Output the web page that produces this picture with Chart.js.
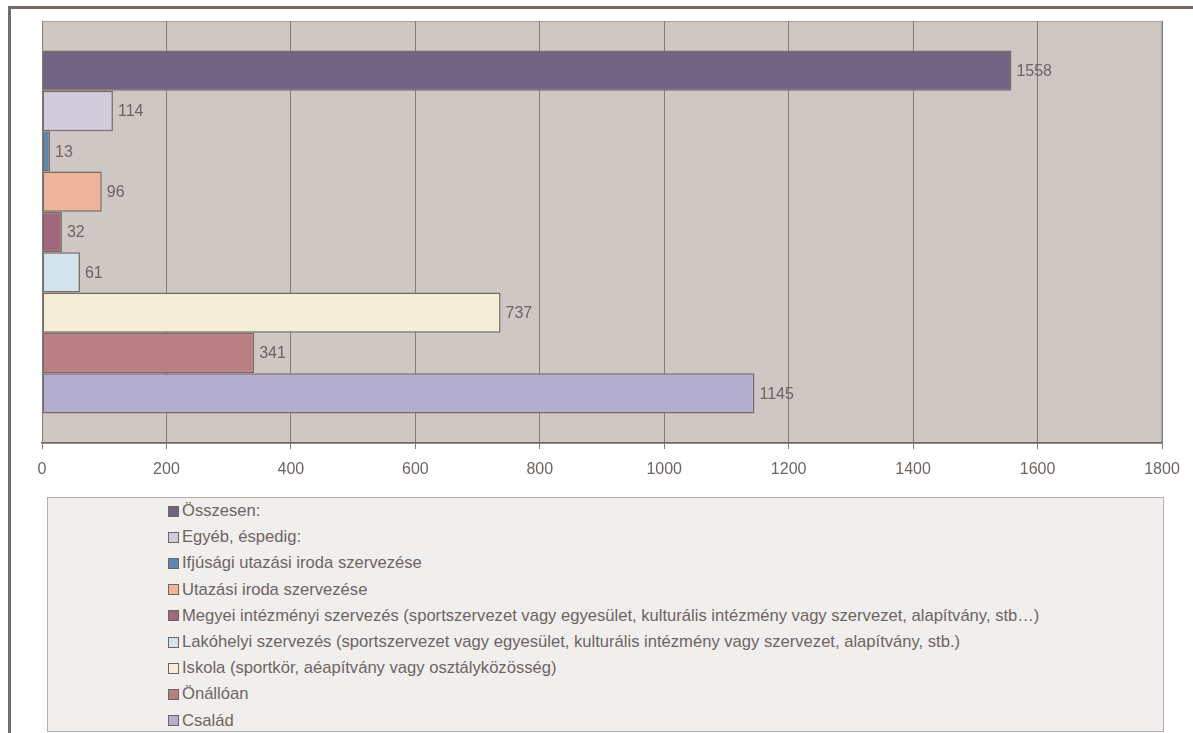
<!DOCTYPE html>
<html lang="hu">
<head>
<meta charset="utf-8">
<title>Szervezés</title>
<script src="https://cdn.jsdelivr.net/npm/chart.js@4.4.1/dist/chart.umd.min.js"></script>
<style>
  html, body { margin: 0; padding: 0; background: #fff; }
  body { width: 1193px; height: 733px; position: relative; overflow: hidden;
         font-family: "Liberation Sans", Arial, sans-serif; }
  .frame { position: absolute; left: 8px; top: 6px; width: 1300px; height: 800px;
           border-left: 3px solid #776b68; border-top: 3px solid #776b68; }
  .chart-box { position: absolute; left: 0; top: 0; width: 1193px; height: 490px; }
  .legend { position: absolute; left: 47px; top: 497px; width: 1117px; height: 235px;
            background: #f1efed; border: 1px solid #b5adab; box-sizing: border-box;
            padding: 0 0 0 120px; }
  .legend-item { height: 26.2px; font-size: 16.6px; color: #6e6462;
                 white-space: nowrap; display: flex; align-items: center; }
  .legend-swatch { width: 9px; height: 9px; border: 1px solid #6e6462; margin-right: 3px; flex: none; }
</style>
</head>
<body>
<div class="frame"></div>
<div class="chart-box"><canvas id="chart"></canvas></div>
<div class="legend" id="legend"></div>
<script>
  "use strict";

  const seriesNames = [
    "Összesen:",
    "Egyéb, éspedig:",
    "Ifjúsági utazási iroda szervezése",
    "Utazási iroda szervezése",
    "Megyei intézményi szervezés (sportszervezet vagy egyesület, kulturális intézmény vagy szervezet, alapítvány, stb…)",
    "Lakóhelyi szervezés (sportszervezet vagy egyesület, kulturális intézmény vagy szervezet, alapítvány, stb.)",
    "Iskola (sportkör, aéapítvány vagy osztályközösség)",
    "Önállóan",
    "Család"
  ];
  const seriesValues = [1558, 114, 13, 96, 32, 61, 737, 341, 1145];
  const seriesColors = [
    "#716583", "#d1ccdc", "#5e88b1", "#f0b39b", "#a1677c",
    "#d3e3ee", "#f4eed9", "#ba7f83", "#b3aecf"
  ];
  const xTicks = [0, 200, 400, 600, 800, 1000, 1200, 1400, 1600, 1800];

  const textColor = "#6e6462";
  const fontFamily = "'Liberation Sans', Arial, sans-serif";

  const plotBackground = {
    id: "plotBackground",
    beforeDraw(chart) {
      const { ctx, chartArea: a } = chart;
      ctx.save();
      ctx.fillStyle = "#cfc7c4";
      ctx.fillRect(a.left, a.top, a.right - a.left, a.bottom - a.top);
      ctx.strokeStyle = "#aaa2a0";
      ctx.lineWidth = 1;
      ctx.strokeRect(a.left + 0.5, a.top + 0.5, a.right - a.left - 1, a.bottom - a.top);
      ctx.restore();
    }
  };

  const valueLabels = {
    id: "valueLabels",
    afterDatasetsDraw(chart) {
      const { ctx } = chart;
      ctx.save();
      ctx.fillStyle = textColor;
      ctx.font = "16px " + fontFamily;
      ctx.textBaseline = "middle";
      ctx.textAlign = "left";
      chart.data.datasets.forEach((ds, i) => {
        const meta = chart.getDatasetMeta(i);
        meta.data.forEach((bar, j) => {
          ctx.fillText(String(ds.data[j]), bar.x + 5, bar.y + 1);
        });
      });
      ctx.restore();
    }
  };

  new Chart(document.getElementById("chart"), {
    type: "bar",
    data: {
      labels: [""],
      datasets: seriesNames.map((name, i) => ({
        label: name,
        data: [seriesValues[i]],
        backgroundColor: seriesColors[i],
        borderColor: "#776b68",
        borderWidth: 1.5,
        borderSkipped: false,
        categoryPercentage: 0.86,
        barPercentage: 1
      }))
    },
    options: {
      indexAxis: "y",
      responsive: true,
      maintainAspectRatio: false,
      animation: false,
      layout: { padding: { left: 42, right: 31, top: 21, bottom: 7 } },
      scales: {
        x: {
          min: 0,
          max: 1800,
          afterBuildTicks: (scale) => { scale.ticks = xTicks.map((v) => ({ value: v })); },
          afterFit: (scale) => { scale.height = 40; },
          grid: { color: "#857b79", lineWidth: 1, tickLength: 6, drawTicks: true },
          border: { color: "#776b68", width: 1.5 },
          ticks: {
            color: textColor,
            padding: 11,
            font: { size: 16, family: fontFamily },
            callback: (v) => String(v)
          }
        },
        y: { display: false }
      },
      plugins: {
        legend: { display: false },
        tooltip: { enabled: false }
      }
    },
    plugins: [plotBackground, valueLabels]
  });

  const legend = document.getElementById("legend");
  seriesNames.forEach((name, i) => {
    const item = document.createElement("div");
    item.className = "legend-item";
    const sw = document.createElement("span");
    sw.className = "legend-swatch";
    sw.style.background = seriesColors[i];
    item.appendChild(sw);
    item.appendChild(document.createTextNode(name));
    legend.appendChild(item);
  });
</script>
</body>
</html>
